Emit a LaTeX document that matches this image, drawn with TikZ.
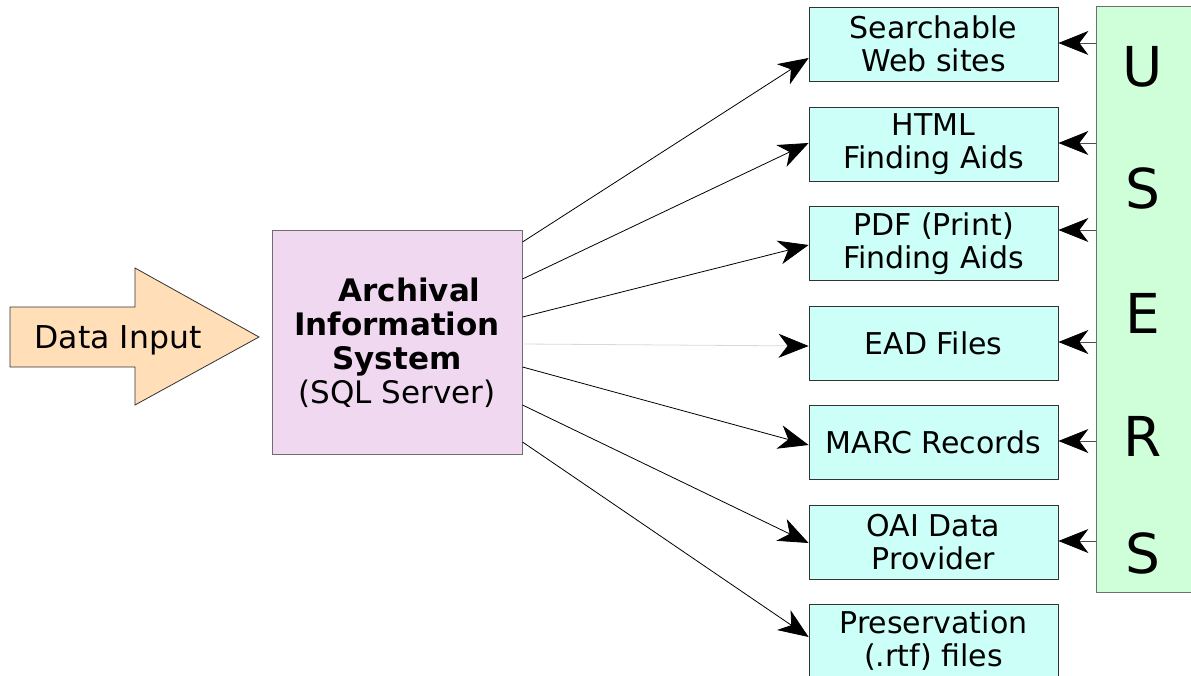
\documentclass[tikz,border=0pt]{standalone}
\usepackage{fontspec}
\setmainfont{DejaVu Sans}
\usetikzlibrary{arrows.meta,positioning}

\definecolor{outcyan}{RGB}{204,255,247}
\definecolor{usergreen}{RGB}{206,255,216}
\definecolor{syslilac}{RGB}{240,217,240}
\definecolor{inputpeach}{RGB}{255,222,184}
\definecolor{edgegray}{RGB}{110,110,110}

\tikzset{
  outbox/.style={draw=black!80, line width=0.8pt, fill=outcyan,
    minimum width=249pt, minimum height=74pt, inner sep=0pt,
    align=center, font=\fontsize{30}{33}\selectfont},
  bigtip/.style={-{Stealth[length=30pt,width=24pt,inset=9pt,color=black]}},
  feed/.style={line width=0.8pt, bigtip},
  request/.style={draw=black!70, line width=0.8pt, bigtip},
}

\begin{document}
\begin{tikzpicture}[x=1pt,y=-1pt]
  \useasboundingbox (0,0) rectangle (1191,676);

  % incoming data arrow
  \draw[fill=inputpeach, draw=black!80, line width=0.8pt]
    (10,307) -- (135,307) -- (135,268) -- (259,337) -- (135,405)
    -- (135,367) -- (10,367) -- cycle;
  \node[font=\fontsize{31.5}{34}\selectfont] (input) at (118,340) {Data Input};

  % central system
  \node[draw=edgegray, line width=1pt, fill=syslilac,
        minimum width=250pt, minimum height=223pt, inner sep=0pt,
        align=center, font=\fontsize{31}{34}\selectfont]
    (main) at (397,342.5)
    {\hspace*{25pt}\textbf{Archival}\\\textbf{Information}\\\textbf{System}\\(SQL Server)};

  % output products
  \node[outbox] (b1) at (933.5,44)    {Searchable\\Web sites};
  \node[outbox] (b2) at (933.5,144)   {HTML\\Finding Aids};
  \node[outbox] (b3) at (933.5,243.5) {PDF (Print)\\Finding Aids};
  \node[outbox] (b4) at (933.5,343)   {EAD Files};
  \node[outbox] (b5) at (933.5,442.5) {MARC Records};
  \node[outbox] (b6) at (933.5,542)   {OAI Data\\Provider};
  \node[outbox] (b7) at (933.5,641)   {Preservation\\(.rtf) files};

  % users column
  \node[draw=edgegray, line width=1pt, fill=usergreen,
        minimum width=96pt, minimum height=585pt, inner sep=0pt]
    (users) at (1144,299.5) {};
  \foreach \ch/\yy [count=\i] in {U/67,S/188,E/313,R/436,S/553}
    \node[font=\fontsize{55}{55}\selectfont] (u\i) at (1143,\yy) {\ch};

  % system feeds each product
  \draw[feed] ([yshift=100.5pt]main.east) -- ([yshift=-14pt]b1.west);
  \draw[feed] ([yshift=63.5pt]main.east)  -- ([yshift=1pt]b2.west);
  \draw[feed] ([yshift=25.5pt]main.east)  -- ([yshift=-1.5pt]b3.west);
  \draw[feed, draw=black!15] ([yshift=-1.5pt]main.east) -- ([yshift=-3pt]b4.west);
  \draw[feed] ([yshift=-24.5pt]main.east) -- ([yshift=-2.5pt]b5.west);
  \draw[feed] ([yshift=-62.5pt]main.east) -- ([yshift=-1pt]b6.west);
  \draw[feed] ([yshift=-99.5pt]main.east) -- ([yshift=4pt]b7.west);

  % users reach the products
  \foreach \b/\yy in {b1/43,b2/143,b3/230,b4/342,b5/441,b6/541}
    \draw[request] (users.west |- 0,\yy) -- (\b.east |- 0,\yy);
\end{tikzpicture}
\end{document}
